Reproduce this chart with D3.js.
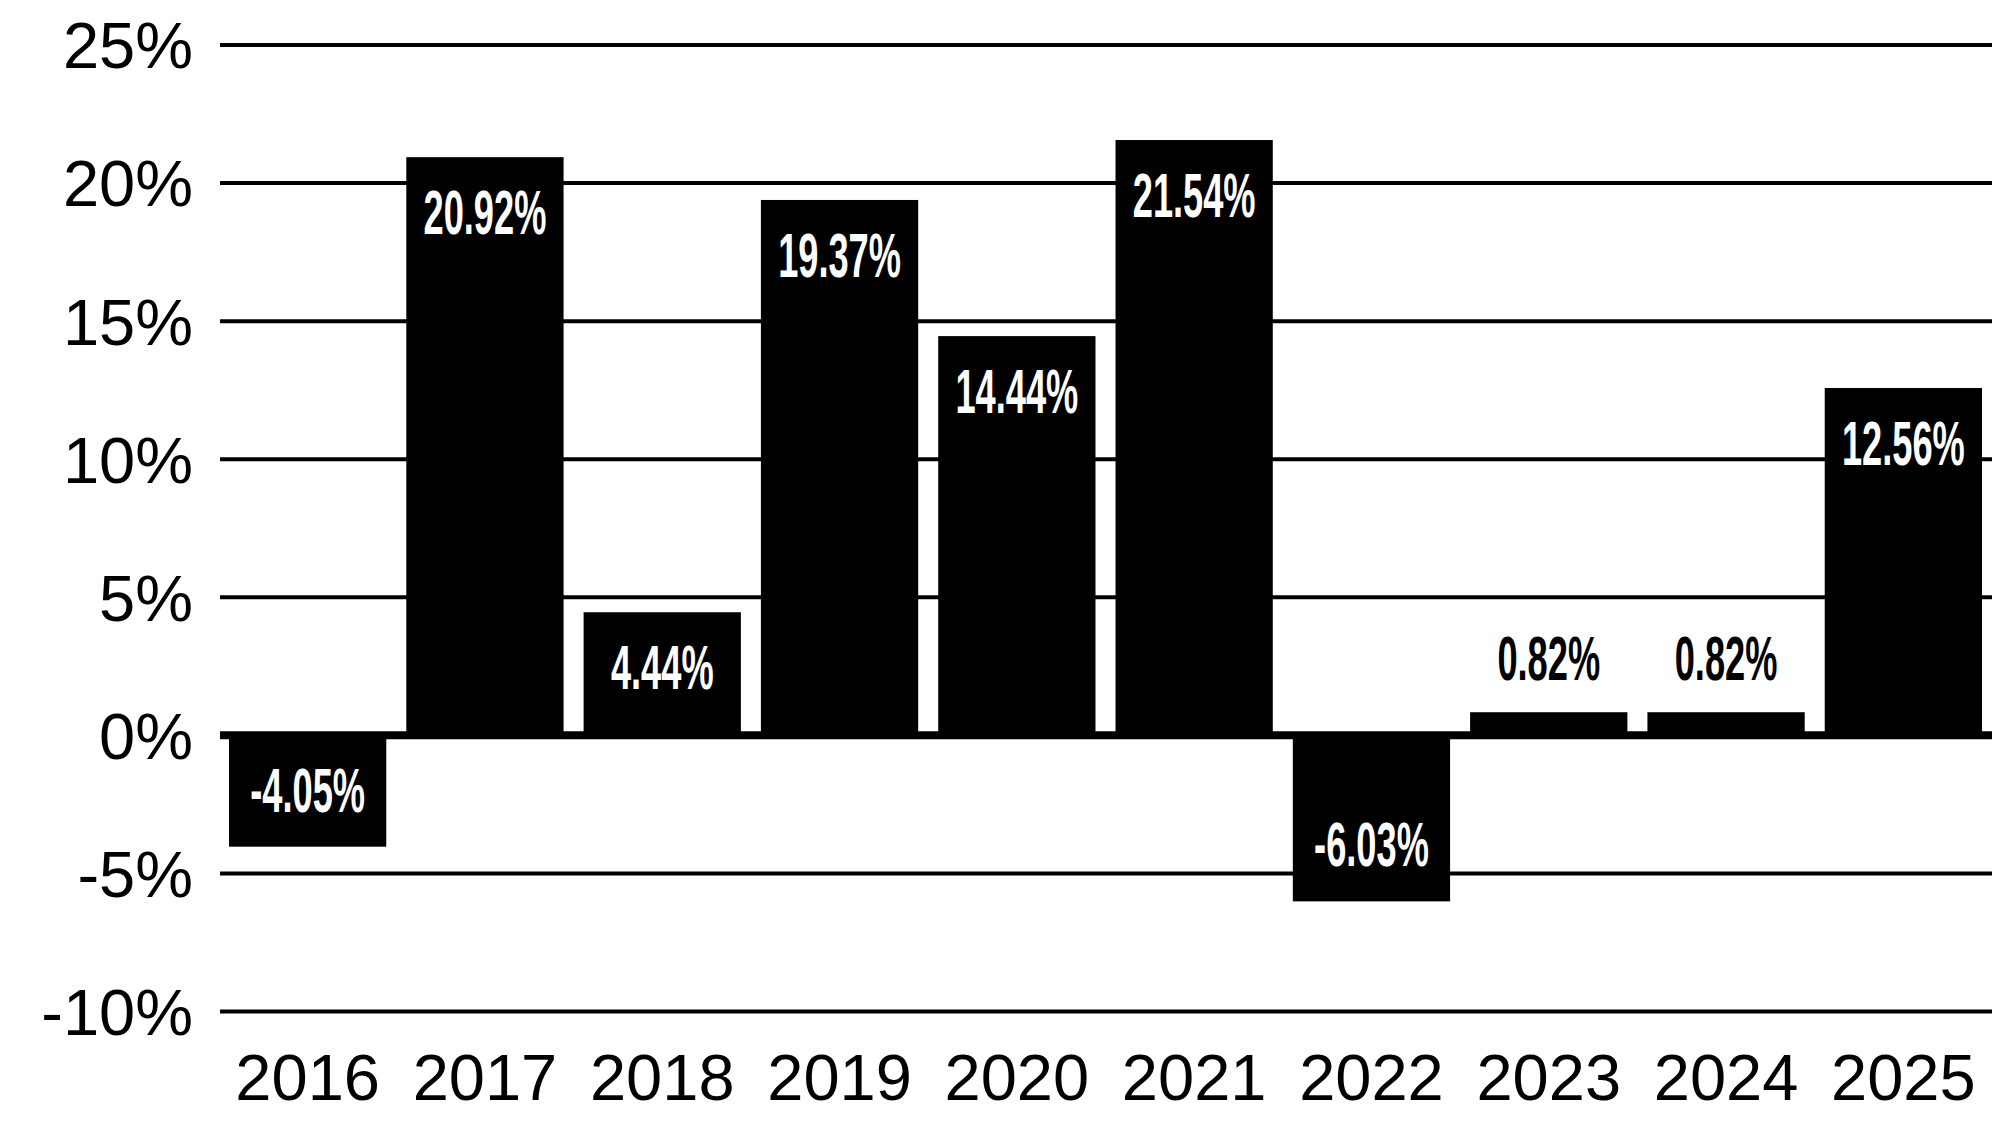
<!DOCTYPE html>
<html>
<head>
<meta charset="utf-8">
<script src="https://cdn.jsdelivr.net/npm/d3@7"></script>
<style>
  html, body { margin: 0; padding: 0; background: #fff; }
  svg { display: block; }
  .axis text { font-family: "Liberation Sans", Arial, sans-serif; fill: #000; }
  .val { font-family: "Liberation Sans Narrow", "Liberation Sans", sans-serif; font-weight: bold; }
</style>
</head>
<body>
<div class="canvas"></div>
<script>
const years = ['2016', '2017', '2018', '2019', '2020', '2021', '2022', '2023', '2024', '2025'];
const returns = [-4.05, 20.92, 4.44, 19.37, 14.44, 21.54, -6.03, 0.82, 0.82, 12.56];
const yTicks = [-10, -5, 0, 5, 10, 15, 20, 25];

const dims = { width: 1992, height: 1125 };

const svg = d3.select('.canvas')
  .append('svg')
  .attr('width', dims.width)
  .attr('height', dims.height);

const x = d3.scaleBand()
  .domain(years)
  .range([229, 1982])
  .paddingInner(0.113)
  .paddingOuter(0);

const y = d3.scaleLinear()
  .domain([-10, 25])
  .range([1011, 44.5]);

// gridlines + y labels
const yAxis = d3.axisLeft(y)
  .tickValues(yTicks)
  .tickSize(1772)
  .tickPadding(27)
  .tickFormat(d => d + '%');

const yG = svg.append('g')
  .attr('class', 'axis')
  .attr('transform', `translate(${dims.width}, 0)`)
  .call(yAxis);

yG.select('.domain').remove();
yG.selectAll('line')
  .attr('stroke', '#000')
  .attr('stroke-width', d => d === 0 ? 8 : 4);
yG.selectAll('text')
  .attr('font-size', 65)
  .attr('dy', '0.36em');

// bars
const bars = svg.append('g');

bars.selectAll('rect')
  .data(returns)
  .enter()
  .append('rect')
    .attr('x', (d, i) => x(years[i]))
    .attr('width', x.bandwidth())
    .attr('y', d => y(Math.max(0, d)))
    .attr('height', d => Math.abs(y(d) - y(0)))
    .attr('fill', '#000');

// value labels
const labels = svg.append('g');

labels.selectAll('text')
  .data(returns)
  .enter()
  .append('text')
    .attr('class', 'val')
    .attr('font-size', 63)
    .attr('text-anchor', 'middle')
    .attr('fill', d => Math.abs(y(d) - y(0)) < 100 ? '#000' : '#fff')
    .attr('transform', (d, i) => {
      const cx = x(years[i]) + x.bandwidth() / 2;
      const h = Math.abs(y(d) - y(0));
      let by;
      if (h < 100) by = y(d) - 32;
      else if (d >= 0) by = y(d) + 77;
      else by = y(d) - 35;
      return `translate(${cx}, ${by}) scale(0.575, 1)`;
    })
    .text(d => d.toFixed(2) + '%');

// x labels
const xAxis = d3.axisBottom(x)
  .tickSize(0)
  .tickPadding(0);

const xG = svg.append('g')
  .attr('class', 'axis')
  .attr('transform', 'translate(0, 1100)')
  .call(xAxis);

xG.select('.domain').remove();
xG.selectAll('text')
  .attr('font-size', 65)
  .attr('dy', 0);
</script>
</body>
</html>
